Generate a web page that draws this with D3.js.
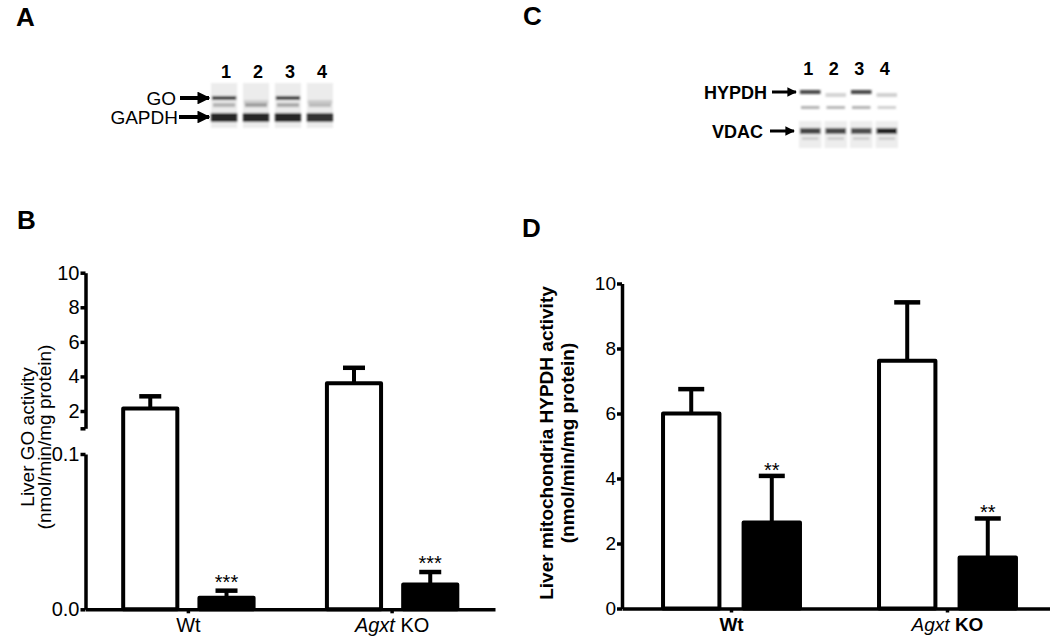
<!DOCTYPE html>
<html>
<head>
<meta charset="utf-8">
<script src="https://cdn.jsdelivr.net/npm/d3@7"></script>
<style>
  body { margin: 0; background: #fff; }
  text { font-family: "Liberation Sans", Arial, sans-serif; fill: #000; }
  .axis path, .axis line { stroke: #000; stroke-width: 3.5; }
</style>
</head>
<body>
<div id="chart-area"></div>
<script>
// groups and bar types (open = control, filled = treated)
const groups = ["Wt", "Agxt KO"]
const barTypes = ["open", "filled"]

// panel B: liver GO activity (nmol/min/mg protein)
const goOpen = [2.15, 3.6]
const goOpenErr = [0.7, 0.9]
const goFilled = [0.0075, 0.016]
const goFilledErr = [0.0045, 0.008]
const goStars = ["***", "***"]
const goTicksUpper = [1, 2, 4, 6, 8, 10]
const goTicksLower = [0, 0.1]

// panel D: liver mitochondria HYPDH activity (nmol/min/mg protein)
const hypOpen = [6.0, 7.62]
const hypOpenErr = [0.75, 1.8]
const hypFilled = [2.65, 1.57]
const hypFilledErr = [1.43, 1.2]
const hypStars = ["**", "**"]
const hypTicks = [0, 2, 4, 6, 8, 10]

// western blot lanes and band strengths (0..1)
const lanes = ["1", "2", "3", "4"]
const goBand = [0.85, 0.1, 0.85, 0.12]
const goLower = [0.25, 0.35, 0.3, 0.2]
const gapdhBand = [0.95, 0.95, 0.95, 0.9]
const hypdhBand = [0.8, 0.08, 0.8, 0.1]
const hypdhLower = [0.25, 0.22, 0.25, 0.1]
const vdacBand = [0.8, 0.78, 0.75, 0.95]

const W = 1050, H = 639

const svg = d3.select("#chart-area").append("svg")
  .attr("width", W)
  .attr("height", H)

const defs = svg.append("defs")
defs.append("filter").attr("id", "blur").attr("x", "-20%").attr("y", "-50%").attr("width", "140%").attr("height", "200%")
  .append("feGaussianBlur").attr("stdDeviation", 1.1)

defs.append("marker")
  .attr("id", "arrow")
  .attr("viewBox", "0 0 10 10")
  .attr("refX", 9).attr("refY", 5)
  .attr("markerWidth", 3.2).attr("markerHeight", 3.2)
  .attr("markerUnits", "strokeWidth")
  .attr("orient", "auto")
  .append("path").attr("d", "M0,0 L10,5 L0,10 z").attr("fill", "#000")

// panel letters
const letters = [["A", 16, 26], ["B", 17, 229], ["C", 523, 25], ["D", 522, 237]]
svg.selectAll(".letter").data(letters).enter().append("text")
  .attr("class", "letter")
  .attr("x", d => d[0] === "A" ? 16 : d[1])
  .attr("y", d => d[2])
  .attr("font-size", 26)
  .attr("font-weight", "bold")
  .text(d => d[0])

const grey = v => d3.interpolateRgb("#e4e4e4", "#1e1e1e")(v)

// ---------- panel A blot ----------
const blotA = svg.append("g")
const xA = d3.scaleBand().domain(lanes).range([211, 333]).paddingInner(0.18)

blotA.selectAll(".num").data(lanes).enter().append("text")
  .attr("x", d => xA(d) + xA.bandwidth() / 2 + 2)
  .attr("y", 78)
  .attr("text-anchor", "middle")
  .attr("font-size", 18).attr("font-weight", "bold")
  .text(d => d)

const laneA = blotA.append("g").attr("filter", "url(#blur)")
laneA.selectAll(".bg").data(lanes).enter().append("rect")
  .attr("x", d => xA(d)).attr("y", 83)
  .attr("width", xA.bandwidth()).attr("height", 45)
  .attr("fill", "#ececec")
laneA.selectAll(".go").data(goBand).enter().append("rect")
  .attr("x", (d, i) => xA(lanes[i]) + 1).attr("y", (d, i) => d > 0.5 ? 96 : 100)
  .attr("width", xA.bandwidth() - 2).attr("height", 4)
  .attr("fill", d => grey(d))
laneA.selectAll(".gol").data(goLower).enter().append("rect")
  .attr("x", (d, i) => xA(lanes[i]) + 2).attr("y", 103)
  .attr("width", xA.bandwidth() - 4).attr("height", 4)
  .attr("fill", d => grey(d))
laneA.selectAll(".gapdh").data(gapdhBand).enter().append("rect")
  .attr("x", (d, i) => xA(lanes[i])).attr("y", 113)
  .attr("width", xA.bandwidth()).attr("height", 9)
  .attr("fill", d => grey(d))

blotA.append("text").attr("x", 176).attr("y", 104.5).attr("text-anchor", "end")
  .attr("font-size", 19).text("GO")
blotA.append("text").attr("x", 178).attr("y", 124).attr("text-anchor", "end")
  .attr("font-size", 19).text("GAPDH")
blotA.append("line").attr("x1", 180).attr("x2", 209).attr("y1", 98).attr("y2", 98)
  .attr("stroke", "#000").attr("stroke-width", 4).attr("marker-end", "url(#arrow)")
blotA.append("line").attr("x1", 179).attr("x2", 209).attr("y1", 117).attr("y2", 117)
  .attr("stroke", "#000").attr("stroke-width", 4).attr("marker-end", "url(#arrow)")

// ---------- panel C blot ----------
const blotC = svg.append("g")
const xC = d3.scaleBand().domain(lanes).range([799, 898]).paddingInner(0.12)

blotC.selectAll(".num").data(lanes).enter().append("text")
  .attr("x", d => xC(d) + xC.bandwidth() / 2 - 2)
  .attr("y", 75)
  .attr("text-anchor", "middle")
  .attr("font-size", 18).attr("font-weight", "bold")
  .text(d => d)

const laneC = blotC.append("g").attr("filter", "url(#blur)")
laneC.selectAll(".bg").data(lanes).enter().append("rect")
  .attr("x", d => xC(d)).attr("y", 121)
  .attr("width", xC.bandwidth()).attr("height", 27)
  .attr("fill", "#ededed")
laneC.selectAll(".hyp").data(hypdhBand).enter().append("rect")
  .attr("x", (d, i) => xC(lanes[i]) + 1).attr("y", (d, i) => d > 0.5 ? 90 : 93)
  .attr("width", xC.bandwidth() - 2).attr("height", 4)
  .attr("fill", d => grey(d))
laneC.selectAll(".hypl").data(hypdhLower).enter().append("rect")
  .attr("x", (d, i) => xC(lanes[i]) + 2).attr("y", 106)
  .attr("width", xC.bandwidth() - 4).attr("height", 3)
  .attr("fill", d => grey(d))
laneC.selectAll(".vdac").data(vdacBand).enter().append("rect")
  .attr("x", (d, i) => xC(lanes[i]) + 1).attr("y", 128)
  .attr("width", xC.bandwidth() - 2).attr("height", 6)
  .attr("fill", d => grey(d))
laneC.selectAll(".vdacl").data(lanes).enter().append("rect")
  .attr("x", d => xC(d) + 3).attr("y", 137)
  .attr("width", xC.bandwidth() - 6).attr("height", 3)
  .attr("fill", "#cfcfcf")

blotC.append("text").attr("x", 767).attr("y", 98.5).attr("text-anchor", "end")
  .attr("font-size", 18).attr("font-weight", "bold").text("HYPDH")
blotC.append("text").attr("x", 763).attr("y", 137.5).attr("text-anchor", "end")
  .attr("font-size", 18).attr("font-weight", "bold").text("VDAC")
blotC.append("line").attr("x1", 772).attr("x2", 796).attr("y1", 92).attr("y2", 92)
  .attr("stroke", "#000").attr("stroke-width", 3).attr("marker-end", "url(#arrow)")
blotC.append("line").attr("x1", 770).attr("x2", 794).attr("y1", 131).attr("y2", 131)
  .attr("stroke", "#000").attr("stroke-width", 3).attr("marker-end", "url(#arrow)")

// ---------- bar chart helper ----------
function drawBars(g, x, xi, y, opn, opnErr, fil, filErr, stars, capW, starDy, stroke) {
  const rows = []
  groups.forEach((grp, i) => {
    rows.push({grp, type: "open", v: opn[i], e: opnErr[i], s: ""})
    rows.push({grp, type: "filled", v: fil[i], e: filErr[i], s: stars[i]})
  })
  const cx = d => x(d.grp) + xi(d.type) + xi.bandwidth() / 2

  g.selectAll(".err").data(rows).enter().append("line")
    .attr("x1", cx).attr("x2", cx)
    .attr("y1", d => y(d.v)).attr("y2", d => y(d.v + d.e))
    .attr("stroke", "#000").attr("stroke-width", stroke)
  g.selectAll(".cap").data(rows).enter().append("line")
    .attr("x1", d => cx(d) - capW / 2).attr("x2", d => cx(d) + capW / 2)
    .attr("y1", d => y(d.v + d.e)).attr("y2", d => y(d.v + d.e))
    .attr("stroke", "#000").attr("stroke-width", stroke + 0.5)

  g.selectAll(".bar").data(rows).enter().append("rect")
    .attr("x", d => x(d.grp) + xi(d.type))
    .attr("y", d => y(d.v))
    .attr("width", xi.bandwidth())
    .attr("height", d => y(0) - y(d.v))
    .attr("fill", d => d.type === "open" ? "#fff" : "#000")
    .attr("stroke", "#000").attr("stroke-width", stroke)
    .attr("stroke-linejoin", "round")

  g.selectAll(".star").data(rows.filter(d => d.s)).enter().append("text")
    .attr("x", cx)
    .attr("y", d => y(d.v + d.e) + starDy)
    .attr("text-anchor", "middle")
    .attr("font-size", 20)
    .text(d => d.s)
}

// ---------- panel B ----------
const gB = svg.append("g")
const B_LEFT = 85.5, B_RIGHT = 495, B_BASE = 609.3

const yLow = d3.scaleLinear().domain([0, 0.1]).range([B_BASE, 454])
const yUp = d3.scaleLinear().domain([1, 10]).range([428.3, 272.7])
const yB = d3.scaleLinear().domain([0, 0.1, 1, 10]).range([B_BASE, 454, 428.3, 272.7])

const xB = d3.scaleBand().domain(groups).range([B_LEFT, B_RIGHT]).paddingInner(0.36).paddingOuter(0.185)
const xBi = d3.scaleBand().domain(barTypes).range([0, xB.bandwidth()]).paddingInner(0.29)

drawBars(gB, xB, xBi, yB, goOpen, goOpenErr, goFilled, goFilledErr, goStars, 22, -2, 4)

gB.append("g").attr("class", "axis")
  .attr("transform", `translate(${B_LEFT},0)`)
  .call(d3.axisLeft(yUp).tickValues(goTicksUpper).tickSize(5).tickSizeOuter(0).tickPadding(1)
    .tickFormat(d => d === 1 ? "" : d))
  .call(a => a.selectAll("text").attr("font-size", 20))
gB.append("g").attr("class", "axis")
  .attr("transform", `translate(${B_LEFT},0)`)
  .call(d3.axisLeft(yLow).tickValues(goTicksLower).tickSize(5).tickSizeOuter(0).tickPadding(1)
    .tickFormat(d3.format(".1f")))
  .call(a => a.selectAll("text").attr("font-size", 20))

const axB = gB.append("g").attr("class", "axis")
  .attr("transform", `translate(0,${B_BASE})`)
  .call(d3.axisBottom(xB).tickSize(4).tickSizeOuter(0).tickPadding(5))
axB.selectAll("text").attr("font-size", 20).text(null)
  .each(function(d) {
    const t = d3.select(this)
    if (d === "Agxt KO") {
      t.append("tspan").attr("font-style", "italic").text("Agxt")
      t.append("tspan").text(" KO")
    } else t.text(d)
  })

gB.append("g").attr("transform", "translate(0,437) rotate(-90)")
  .selectAll("text").data([["Liver GO activity", 34], ["(nmol/min/mg protein)", 51]]).enter()
  .append("text").attr("x", 0).attr("y", d => d[1])
  .attr("text-anchor", "middle").attr("font-size", 19)
  .text(d => d[0])

// ---------- panel D ----------
const gD = svg.append("g")
const D_LEFT = 622, D_RIGHT = 1057, D_BASE = 608.5

const yD = d3.scaleLinear().domain([0, 10]).range([D_BASE, 283.5])
const xD = d3.scaleBand().domain(groups).range([D_LEFT, D_RIGHT]).paddingInner(0.366).paddingOuter(0.19)
const xDi = d3.scaleBand().domain(barTypes).range([0, xD.bandwidth()]).paddingInner(0.3)

drawBars(gD, xD, xDi, yD, hypOpen, hypOpenErr, hypFilled, hypFilledErr, hypStars, 26, 1, 4)

gD.append("g").attr("class", "axis")
  .attr("transform", `translate(${D_LEFT},0)`)
  .call(d3.axisLeft(yD).tickValues(hypTicks).tickSize(5).tickSizeOuter(0).tickPadding(1))
  .call(a => a.selectAll("text").attr("font-size", 19))

const axD = gD.append("g").attr("class", "axis")
  .attr("transform", `translate(0,${D_BASE})`)
  .call(d3.axisBottom(xD).tickSize(4).tickSizeOuter(0).tickPadding(5.5))
axD.selectAll("text").attr("font-size", 19).attr("font-weight", "bold").text(null)
  .each(function(d) {
    const t = d3.select(this)
    if (d === "Agxt KO") {
      t.append("tspan").attr("font-style", "italic").attr("font-weight", "normal").text("Agxt")
      t.append("tspan").text(" KO")
    } else t.text(d)
  })

gD.append("g").attr("transform", "translate(0,443) rotate(-90)")
  .selectAll("text").data([["Liver mitochondria HYPDH activity", 553], ["(nmol/min/mg protein)", 574]]).enter()
  .append("text").attr("x", 0).attr("y", d => d[1])
  .attr("text-anchor", "middle").attr("font-size", 19).attr("font-weight", "bold")
  .text(d => d[0])
</script>
</body>
</html>
